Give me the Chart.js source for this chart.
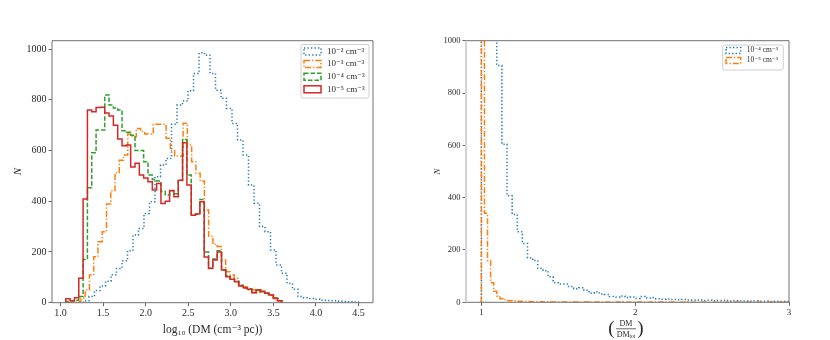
<!DOCTYPE html>
<html>
<head>
<meta charset="utf-8">
<script src="https://cdn.jsdelivr.net/npm/chart.js@4.4.1/dist/chart.umd.min.js"></script>
<style>
  html, body { margin: 0; padding: 0; background: #fff; }
  #wrap { position: relative; width: 830px; height: 340px; overflow: hidden; }
  canvas { position: absolute; top: 0; }
</style>
</head>
<body>
<div id="wrap">
  <canvas id="left" width="415" height="340" style="left:0"></canvas>
  <canvas id="right" width="415" height="340" style="left:415px"></canvas>
</div>
<script>
// left panel: histogram of log10 DM, 50 bins per density
const leftLabels = ["10⁻² cm⁻³", "10⁻³ cm⁻³", "10⁻⁴ cm⁻³", "10⁻⁵ cm⁻³"];
const ne2Range = [1.27, 4.5];
const ne2Counts = [8, 24, 48, 66, 85, 110, 135, 165, 205, 267, 293, 352, 398, 497, 543,
    569, 704, 779, 795, 836, 904, 985, 976, 904, 838, 806, 766, 707, 641, 582,
    464, 392, 300, 280, 208, 149, 116, 76, 53, 24, 20, 17, 14, 10, 9, 8, 6, 5, 4, 3];
const ne3Range = [1.09, 3.59];
const ne3Counts = [1, 2, 4, 17, 50, 109, 181, 240, 280, 389, 441, 512, 562, 582, 665,
    654, 687, 675, 665, 665, 704, 704, 704, 648, 600, 578, 578, 708, 622, 556,
    510, 480, 365, 262, 230, 222, 168, 122, 109, 96, 70, 63, 50, 51, 39, 50, 37, 30, 20, 8];
const ne4Range = [1.062, 3.602];
const ne4Counts = [5, 8, 10, 24, 170, 453, 591, 681, 681, 819, 779, 768, 760, 678, 672,
    660, 600, 600, 556, 503, 486, 480, 438, 425, 441, 430, 482, 643, 503, 348,
    350, 407, 200, 135, 172, 205, 130, 105, 92, 85, 68, 58, 55, 40, 50, 45, 37, 30, 18, 8];
const ne5Range = [1.062, 3.602];
const ne5Counts = [16, 8, 20, 96, 409, 760, 753, 770, 771, 748, 736, 700, 645, 619, 622,
    535, 550, 503, 492, 477, 444, 470, 391, 400, 442, 418, 483, 631, 464, 345,
    350, 398, 180, 136, 168, 200, 129, 102, 92, 83, 66, 59, 53, 39, 50, 43, 37, 30, 17, 8];
const leftXTicks = [1.0, 1.5, 2.0, 2.5, 3.0, 3.5, 4.0, 4.5];
const leftYTicks = [0, 200, 400, 600, 800, 1000];

// right panel: histogram of DM / DM_tot
const rightLabels = ["10⁻⁴ cm⁻³", "10⁻⁵ cm⁻³"];
const r4Range = [1.0, 3.0];
const r4Counts = [4200, 2400, 1350, 905, 604, 407, 336, 270, 225, 170,
    160, 130, 121, 98, 75, 70, 70, 60, 52, 56,
    46, 35, 40, 32, 30, 22, 20, 24, 18, 20,
    15, 22, 16, 18, 14, 12, 13, 11, 10, 11,
    9, 8, 9, 7, 8, 6, 7, 8, 5, 6,
    5, 5, 4, 5, 4, 4, 3, 4, 3, 3];
const r5Range = [1.0, 3.0];
const r5Counts = [3000, 340, 160, 75, 42, 24, 14, 10, 7, 6,
    5, 4, 4, 3, 3, 3, 2, 2, 2, 2,
    1, 2, 1, 1, 1, 1, 1, 1, 1, 1,
    1, 1, 0, 1, 1, 0, 1, 0, 1, 1,
    0, 1, 0, 0, 1, 0, 1, 0, 0, 1,
    0, 1, 0, 0, 0, 1, 0, 0, 1, 0,
    0, 0, 1, 0, 0, 0, 0, 1, 0, 0,
    0, 1, 0, 0, 0, 0, 0, 1, 0, 0,
    0, 0, 1, 0, 0, 0, 0, 0, 0, 1,
    0, 0, 0, 0, 1, 0, 0, 0, 0, 1];
const rightXTicks = [1, 2, 3];
const rightYTicks = [0, 200, 400, 600, 800, 1000];

const C0 = "#1f77b4", C1 = "#ff7f0e", C2 = "#2ca02c", C3 = "#d62728";
const DOTTED = [1.3, 2.2], DASHDOT = [6, 2, 1.3, 2], DASHED = [4.5, 2], SOLID = [];
const SERIF = '"Liberation Serif", "DejaVu Serif", serif';
const INK = "#2a2a2a";

// outline of a step histogram (like histtype='step')
const histSteps = (range, counts) => {
    const w = (range[1] - range[0]) / counts.length;
    const pts = [{ x: range[0], y: 0 }];
    counts.forEach((c, i) => {
        pts.push({ x: range[0] + i * w, y: c });
        pts.push({ x: range[0] + (i + 1) * w, y: c });
    });
    pts.push({ x: range[1], y: 0 });
    return pts;
};

const histSet = (label, range, counts, color, dash, order) => ({
    label,
    data: histSteps(range, counts),
    borderColor: color,
    backgroundColor: "transparent",
    borderDash: dash,
    borderWidth: 1.5,
    pointRadius: 0,
    fill: false,
    tension: 0,
    order,
});

const frame = {
    id: "frame",
    afterDatasetsDraw(chart, args, o) {
        const { ctx, chartArea: a } = chart;
        ctx.save();
        ctx.lineWidth = 1;
        ctx.strokeStyle = o.color;
        ctx.beginPath();
        ctx.moveTo(a.left, a.top);
        ctx.lineTo(a.right, a.top);
        ctx.lineTo(a.right, a.bottom);
        ctx.lineTo(a.left, a.bottom);
        ctx.stroke();
        ctx.strokeStyle = o.leftColor;
        ctx.lineWidth = o.leftWidth;
        ctx.beginPath();
        ctx.moveTo(a.left, a.top);
        ctx.lineTo(a.left, a.bottom);
        ctx.stroke();
        ctx.restore();
    },
};

// legend drawn inside the axes, upper right
const boxLegend = {
    id: "boxLegend",
    afterDatasetsDraw(chart, args, o) {
        const { ctx } = chart;
        ctx.save();
        ctx.fillStyle = "rgba(255,255,255,0.85)";
        ctx.strokeStyle = "#d0d0d0";
        ctx.lineWidth = 1;
        ctx.beginPath();
        ctx.roundRect(o.x, o.y, o.w, o.h, 2);
        ctx.fill();
        ctx.stroke();
        chart.data.datasets.forEach((ds, i) => {
            const cy = o.firstY + i * o.rowH;
            ctx.setLineDash(ds.borderDash);
            ctx.strokeStyle = ds.borderColor;
            ctx.lineWidth = 1.5;
            ctx.strokeRect(o.x + o.boxX, cy - o.boxH / 2, o.boxW, o.boxH);
            ctx.setLineDash([]);
            ctx.fillStyle = INK;
            ctx.font = o.font;
            ctx.textBaseline = "middle";
            ctx.textAlign = "left";
            ctx.fillText(ds.label, o.x + o.textX, cy);
        });
        ctx.restore();
    },
};

// x title of the right panel: (DM / DM_tot) as a fraction
const fractionTitle = {
    id: "fractionTitle",
    afterDraw(chart, args, o) {
        const { ctx, chartArea: a } = chart;
        const cx = (a.left + a.right) / 2 - 1.5;
        ctx.save();
        ctx.fillStyle = INK;
        ctx.textBaseline = "middle";
        ctx.textAlign = "center";
        ctx.font = "8px " + SERIF;
        ctx.fillText("DM", cx, o.y - 5);
        const dmW = ctx.measureText("DM").width;
        ctx.font = "5.5px " + SERIF;
        const subW = ctx.measureText("tot").width;
        const left = cx - (dmW + subW) / 2;
        ctx.textAlign = "left";
        ctx.font = "8px " + SERIF;
        ctx.fillText("DM", left, o.y + 6);
        ctx.font = "5.5px " + SERIF;
        ctx.fillText("tot", left + dmW, o.y + 8);
        ctx.fillRect(cx - 10, o.y, 20, 0.7);
        ctx.textAlign = "center";
        ctx.font = "19px " + SERIF;
        ctx.fillText("(", cx - 14.5, o.y + 1);
        ctx.fillText(")", cx + 14.5, o.y + 1);
        ctx.restore();
    },
};

const axisCommon = (p) => ({
    type: "linear",
    min: p.min,
    max: p.max,
    afterBuildTicks: (s) => { s.ticks = p.ticks.map((v) => ({ value: v })); },
    border: { display: false },
    grid: { drawOnChartArea: false, drawTicks: true, tickLength: 3.5, tickColor: "#444", tickWidth: 0.8 },
    ticks: {
        font: { family: SERIF, size: p.fontSize },
        color: INK,
        padding: p.pad,
        maxRotation: 0,
        autoSkip: false,
        callback: p.fmt,
    },
    title: p.title,
});

new Chart(document.getElementById("left"), {
    type: "line",
    data: {
        datasets: [
            histSet(leftLabels[0], ne2Range, ne2Counts, C0, DOTTED, 4),
            histSet(leftLabels[1], ne3Range, ne3Counts, C1, DASHDOT, 3),
            histSet(leftLabels[2], ne4Range, ne4Counts, C2, DASHED, 2),
            histSet(leftLabels[3], ne5Range, ne5Counts, C3, SOLID, 1),
        ],
    },
    plugins: [frame, boxLegend],
    options: {
        responsive: false,
        animation: false,
        layout: { padding: { top: 40.7, right: 42, left: 0, bottom: 0 } },
        plugins: {
            legend: { display: false },
            tooltip: { enabled: false },
            frame: { color: "#707070", leftColor: "#707070", leftWidth: 1 },
            boxLegend: {
                x: 301, y: 44.5, w: 68, h: 53.5, firstY: 51.5, rowH: 12.6,
                boxX: 3, boxW: 17, boxH: 7, textX: 26, font: "9px " + SERIF,
            },
        },
        scales: {
            x: {
                ...axisCommon({
                    min: 0.9, max: 4.67, ticks: leftXTicks, fontSize: 10, pad: 1,
                    fmt: (v) => v.toFixed(1),
                    title: {
                        display: true, text: "log₁₀ (DM (cm⁻³ pc))", color: INK,
                        font: { family: SERIF, size: 11.5 }, padding: { top: 0, bottom: 3.5 },
                    },
                }),
                afterFit: (s) => { s.height = 37.3; },
            },
            y: {
                ...axisCommon({
                    min: 0, max: 1033, ticks: leftYTicks, fontSize: 10, pad: 2,
                    fmt: (v) => String(v),
                    title: {
                        display: true, text: "N", color: INK,
                        font: { family: SERIF, size: 11, style: "italic" }, padding: { top: 11.4, bottom: 0 },
                    },
                }),
                afterFit: (s) => { s.width = 52; },
            },
        },
    },
});

new Chart(document.getElementById("right"), {
    type: "line",
    data: {
        datasets: [
            histSet(rightLabels[0], r4Range, r4Counts, C0, DOTTED, 2),
            histSet(rightLabels[1], r5Range, r5Counts, C1, DASHDOT, 1),
        ],
    },
    plugins: [frame, boxLegend, fractionTitle],
    options: {
        responsive: false,
        animation: false,
        layout: { padding: { top: 40.7, right: 41, left: 0, bottom: 0 } },
        plugins: {
            legend: { display: false },
            tooltip: { enabled: false },
            frame: { color: "#707070", leftColor: "#d4d4d4", leftWidth: 2 },
            boxLegend: {
                x: 307.7, y: 45, w: 60.6, h: 25, firstY: 50.5, rowH: 10,
                boxX: 3.3, boxW: 14.7, boxH: 6, textX: 24, font: "7.5px " + SERIF,
            },
            fractionTitle: { y: 328.5 },
        },
        scales: {
            x: {
                ...axisCommon({
                    min: 0.9, max: 3.0, ticks: rightXTicks, fontSize: 9, pad: 1,
                    fmt: (v) => String(v),
                    title: { display: false },
                }),
                afterFit: (s) => { s.height = 37.7; },
            },
            y: {
                ...axisCommon({
                    min: 0, max: 1000, ticks: rightYTicks, fontSize: 8.5, pad: 2,
                    fmt: (v) => String(v),
                    title: {
                        display: true, text: "N", color: INK,
                        font: { family: SERIF, size: 9, style: "italic" }, padding: { top: 17.3, bottom: 0 },
                    },
                }),
                afterFit: (s) => { s.width = 51; },
            },
        },
    },
});
</script>
</body>
</html>
